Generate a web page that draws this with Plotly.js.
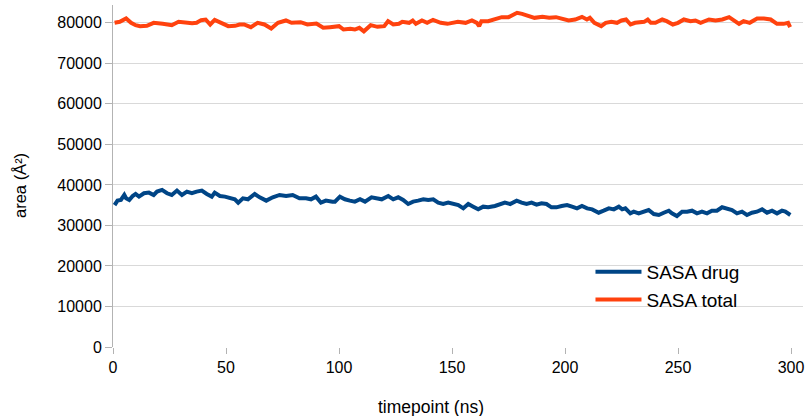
<!DOCTYPE html>
<html>
<head>
<meta charset="utf-8">
<script src="https://cdn.plot.ly/plotly-3.0.1.min.js"></script>
<style>html,body{margin:0;padding:0;background:#fff;}#chart{width:808px;height:416px;}</style>
</head>
<body>
<div id="chart"></div>
<script>
// SASA total (orange)
const totalTime = [0.7,3,5.8,8,10,12,15,18,22,26,29,32,35,37,39,41,43,45,48,51,54,56,58,61,64,67,70,73,76.5,79,83,86,90,93,96,100,102,105,107,109,111,114,117,120,121.7,124,126.5,128,131,132.6,134,136.7,139,141.6,145,148,152.6,156,158.8,161,162,163,166,169,172,175,178.8,181,183.6,186.5,190,193,196,200,201.6,204.5,207.5,209.7,211,213,216,218,220.5,223,225,227,229,231,235,236.6,238,240,243,245,247.7,250,252.6,255.5,257.7,260,263.7,266.6,269.6,272.6,275,277,279,281.7,285,288,291,293.8,296.7,298.7,299.6];
const totalArea = [80000,80250,81070,80000,79420,79180,79260,80000,79750,79420,80250,80000,79920,80000,80660,80820,79590,80740,79920,79180,79260,79590,79590,78930,80000,79590,78600,80000,80580,80000,80160,79590,79840,78770,78930,79180,78350,78520,78350,78770,77900,79420,79010,79180,80410,79590,79750,80250,80000,80580,79750,80580,80000,80740,80000,79750,80250,80000,80580,80000,79180,80410,80410,80820,81400,81400,82470,82220,81650,81230,81480,81230,81400,80820,80580,80820,81480,80820,81230,80000,79180,80000,80250,80000,80580,80820,79590,80000,80250,80820,80000,80000,80820,80410,79590,80000,80820,80410,80580,80000,80820,80580,80820,81400,80410,79750,80410,80000,81070,81070,80820,79750,79750,80000,78930];

// SASA drug (blue)
const drugTime = [0.7,2,3.5,5,5.8,7.2,8.7,10,11.5,13.7,15.9,18,19.5,21.7,23.9,26,28.3,30.5,32.7,34.9,37,39.3,41.5,43.7,45,47.3,49.5,51.7,53.9,55.4,57.5,59.7,62.7,64.9,67.8,70.7,73.7,76.6,79.5,82.5,85.4,87.6,89.8,92,94.2,97.1,98.2,100.4,102.6,104.8,107,109.3,111.5,114.4,116.6,118.9,121.8,124,126.2,128.4,130.6,132.8,135,137.3,139.5,141.7,143.9,146.1,148.3,150.5,152.8,155,157.2,159.4,161.6,163.8,166,169,171.2,173.4,175.7,178.6,180.8,183,185.2,187.4,189.6,191.8,194,196.2,198.5,200.9,203.1,205.3,207.5,209.8,212,214.9,217.1,219.4,221.6,223.8,225.3,226.7,228.9,230.4,232.6,234.8,237,239.3,241.5,243.7,245.9,247.3,249.5,251.8,254,256.2,258.4,260.6,262.8,265,267.2,269.5,271.7,273.9,276.1,278.3,280.5,282.7,284.9,287.2,289.4,291.6,293.8,296,297.5,299.7];
const drugArea = [35040,36120,36280,37520,36700,36280,37270,37770,37110,37940,38100,37520,38350,38760,37940,37520,38600,37520,38350,37940,38350,38600,37770,37110,38100,37270,37110,36700,36450,35620,36700,36450,37770,36940,36120,36940,37520,37270,37520,36700,36700,36450,37110,35620,36120,35870,35870,37110,36450,36120,35870,36450,35870,36940,36700,36450,37270,36450,36940,36280,35290,35870,36120,36450,36280,36450,35620,35290,35620,35290,35040,34220,35290,34630,33970,34630,34470,34800,35290,35620,35290,36120,35620,35290,35620,35130,35460,35290,34470,34470,34800,35040,34630,34220,34800,34220,33970,33140,33640,34220,33970,34630,33970,34220,32980,33390,32980,33390,33800,32810,32570,33140,33640,32980,32320,33390,33390,33640,32980,33390,32980,33640,33640,34490,34220,33800,32980,33390,32570,33140,33390,33970,33140,33640,32980,33640,33390,32570];

const seriesNames = ["SASA drug", "SASA total"];
const xTicks = [0,50,100,150,200,250,300];
const yTicks = [0,10000,20000,30000,40000,50000,60000,70000,80000];
const xTitle = "timepoint (ns)";
const yTitle = "area (Å²)";

const fam = "Liberation Sans, Arial, sans-serif";
const font = {family: fam, size: 16, color: "#000"};

const traces = [
  {x: drugTime, y: drugArea, name: seriesNames[0], type: "scatter", mode: "lines",
   line: {color: "#004586", width: 4}},
  {x: totalTime, y: totalArea, name: seriesNames[1], type: "scatter", mode: "lines",
   line: {color: "#ff420e", width: 4}}
];

const layout = {
  width: 808, height: 416,
  margin: {l: 113, r: 5, t: 5, b: 69, pad: 0},
  paper_bgcolor: "#fff", plot_bgcolor: "#fff",
  font: font,
  showlegend: true,
  legend: {x: 0.692, y: 0.275, xanchor: "left", yanchor: "top", bgcolor: "rgba(0,0,0,0)",
           font: {family: fam, size: 19, color: "#000"}, tracegroupgap: 0, itemwidth: 46},
  xaxis: {
    range: [0, 305.3], tickvals: xTicks, ticktext: xTicks.map(String),
    showgrid: false, zeroline: false, showline: false,
    ticks: "outside", ticklen: 6, tickcolor: "#b3b3b3",
    tickfont: font
  },
  yaxis: {
    range: [0, 84400], tickvals: yTicks, ticktext: yTicks.map(String),
    showgrid: true, gridcolor: "#d9d9d9", gridwidth: 1,
    zeroline: false, showline: true, linecolor: "#b3b3b3", linewidth: 1,
    ticks: "outside", ticklen: 7, tickcolor: "#b3b3b3",
    tickfont: font
  },
  annotations: [
    {text: xTitle, xref: "paper", yref: "paper", x: 0.4609, y: -0.175,
     xanchor: "center", yanchor: "middle", showarrow: false,
     font: {family: fam, size: 17.5, color: "#000"}},
    {text: yTitle, xref: "paper", yref: "paper", x: -0.1348, y: 0.4737,
     xanchor: "center", yanchor: "middle", showarrow: false, textangle: -90,
     font: {family: fam, size: 16.5, color: "#000"}}
  ]
};

Plotly.newPlot("chart", traces, layout, {displayModeBar: false, staticPlot: true});
</script>
</body>
</html>
